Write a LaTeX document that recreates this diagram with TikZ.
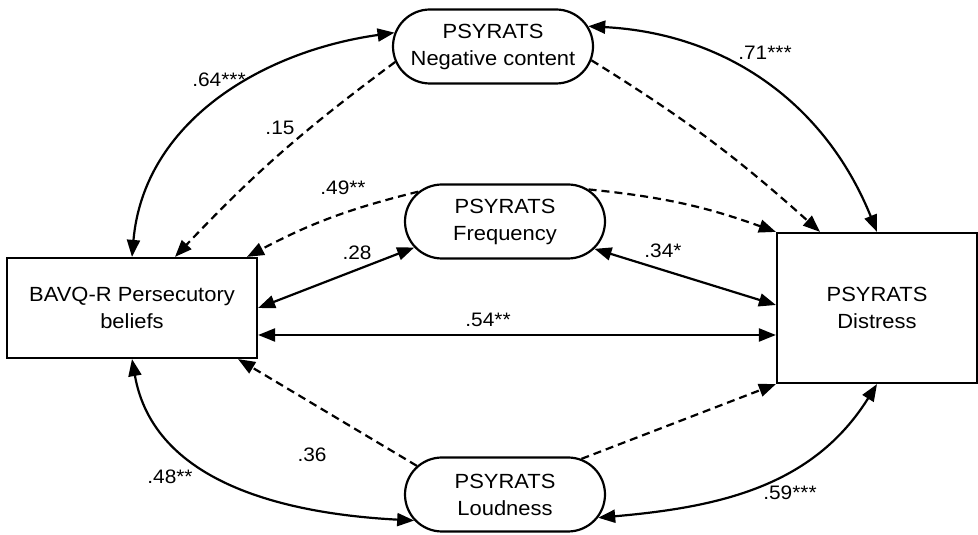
\documentclass[tikz,border=0pt]{standalone}
\usepackage{fontspec}
\setmainfont[FakeStretch=1.07]{Liberation Sans}
\usetikzlibrary{arrows.meta,shapes.misc}
\begin{document}
\begin{tikzpicture}[x=1pt,y=1pt,
  tip/.tip={Triangle[length=17pt,width=13pt]},
  box/.style={draw,line width=2.2pt,rectangle,inner sep=0pt,align=center,font=\fontsize{20.5}{27}\selectfont},
  pill/.style={draw,line width=2.2pt,rounded rectangle,minimum width=200pt,minimum height=74pt,inner sep=0pt,align=center,font=\fontsize{20.5}{27}\selectfont},
  corr/.style={line width=2.2pt,tip-tip},
  regr/.style={line width=2.2pt,dash pattern=on 8pt off 5pt,-tip},
  lbl/.style={font=\fontsize{19.5}{23}\selectfont,inner sep=0pt}]
\useasboundingbox (0,0) rectangle (978,535);

\node[box,minimum width=250pt,minimum height=100pt] (bavq) at (132,227) {BAVQ-R Persecutory\\beliefs};
\node[box,minimum width=200pt,minimum height=150pt] (dist) at (877,227) {PSYRATS\\Distress};
\node[pill] (neg) at (493,488.5) {PSYRATS\\Negative content};
\node[pill] (freq) at (505,313.5) {PSYRATS\\Frequency};
\node[pill] (loud) at (505,40.5) {PSYRATS\\Loudness};

% correlations
\draw[corr] (bavq.north) to[out=85,in=188] (neg.172);
\draw[corr] (neg.12) to[out=-3,in=112] (dist.north);
\draw[corr] (bavq.east) -- (freq.196);
\draw[corr] (freq.343) -- ([yshift=3pt]dist.west);
\draw[corr] ([yshift=-27pt]bavq.east) -- ([yshift=-27pt]dist.west);
\draw[corr] (bavq.south) to[out=-80,in=177] (loud.196);
\draw[corr] (loud.346) to[out=5,in=238] (dist.south);

% regressions
\draw[regr] (neg.189) to[bend right=5] ([xshift=43pt]bavq.north);
\draw[regr] (freq.161) to[bend right=7] ([xshift=115pt]bavq.north);
\draw[regr] (loud.162) -- ([xshift=-20pt]bavq.south east);
\draw[regr] (neg.352) to[bend left=5] ([xshift=-57pt]dist.north);
\draw[regr] (freq.21) to[bend left=7] (dist.north west);
\draw[regr] (loud.25) -- (dist.south west);

% labels
\node[lbl] (l64) at (219,455) {.64***};
\node[lbl] (l15) at (280,407) {.15};
\node[lbl] (l49) at (343,347) {.49**};
\node[lbl] (l28) at (357,282) {.28};
\node[lbl] (l34) at (663,284) {.34*};
\node[lbl] (l54) at (488,215) {.54**};
\node[lbl] (l71) at (765,482) {.71***};
\node[lbl] (l36) at (312,80) {.36};
\node[lbl] (l48) at (170,58) {.48**};
\node[lbl] (l59) at (790,42) {.59***};
\end{tikzpicture}
\end{document}
